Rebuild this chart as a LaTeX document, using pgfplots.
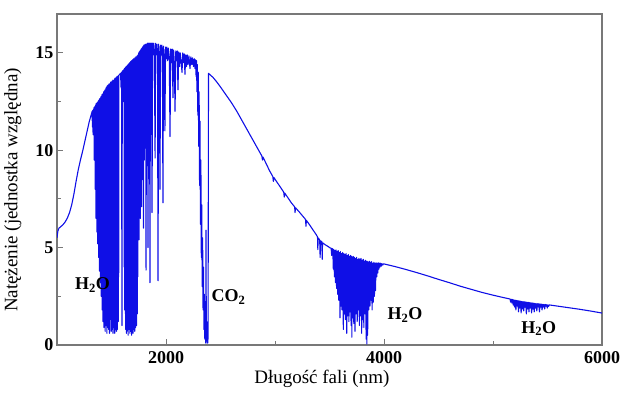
\documentclass[border=0pt]{standalone}
\usepackage{fontspec}
\setmainfont{Liberation Serif}
\usepackage{pgfplots}
\pgfplotsset{compat=1.18}
\definecolor{specblue}{RGB}{15,15,230}
\definecolor{axisgray}{RGB}{120,120,120}
\begin{document}
\begin{tikzpicture}
\useasboundingbox (0pt,0pt) rectangle (626pt,395pt);
\begin{axis}[
  at={(57pt,50pt)}, anchor=south west,
  width=545pt, height=331pt, scale only axis,
  xmin=1000, xmax=6000, ymin=0, ymax=17,
  xtick={2000,4000,6000}, minor xtick={3000,5000},
  ytick={0,5,10,15}, minor ytick={2.5,7.5,12.5},
  xtick pos=bottom, ytick pos=left, tick align=inside,
  major tick length=6pt, minor tick length=4pt,
  axis line style={draw=axisgray, line width=1.3pt},
  every tick/.style={draw=axisgray, line width=1pt},
  scaled x ticks=false,
  /pgf/number format/1000 sep={},
  /pgf/number format/assume math mode=true,
  ticklabel style={font=\fontsize{18}{20}\selectfont\bfseries},
  xticklabel style={yshift=-3pt},
  xlabel={Długość fali (nm)},
  ylabel={Natężenie (jednostka względna)},
  label style={font=\fontsize{19}{22}\selectfont},
  xlabel style={at={(axis description cs:0.486,-0.103)}, anchor=center},
  ylabel style={at={(axis description cs:-0.081,0.468)}, anchor=center},
  clip=true,
]
\addplot[color=specblue, line width=1.1pt, line join=round, mark=none] table {
x y
1000 5.50
1008 5.85
1018 6.00
1035 6.08
1055 6.18
1075 6.32
1095 6.52
1115 6.80
1135 7.20
1155 7.75
1175 8.40
1195 9.00
1215 9.50
1235 9.95
1255 10.45
1275 10.95
1295 11.45
1310 11.75
1320 11.95
1322 12.0
1325 11.2
1328 12.05
1331 10.8
1334 12.1
1337 11.5
1340 12.2
1342 9.5
1344 12.2
1346 10.5
1348 12.25
1350 8.0
1352 12.3
1354 9.2
1356 12.35
1358 6.5
1360 12.4
1362 7.8
1364 12.4
1366 5.8
1368 12.45
1370 7.0
1372 12.3
1374 5.2
1376 12.5
1378 6.0
1380 12.55
1382 4.5
1384 12.4
1386 5.5
1388 12.6
1390 3.8
1392 12.65
1394 4.8
1396 12.5
1398 3.2
1400 12.7
1402 5.0
1404 12.75
1406 2.5
1408 12.6
1410 4.2
1412 12.85
1414 1.8
1416 12.8
1418 3.6
1420 12.9
1422 1.2
1424 12.7
1426 4.5
1428 13.0
1430 0.9
1432 12.9
1434 3.0
1436 13.05
1438 1.4
1440 13.1
1442 0.7
1444 12.8
1446 3.8
1448 13.2
1450 1.0
1452 13.1
1454 2.4
1456 13.25
1458 0.6
1460 13.3
1462 4.2
1464 13.0
1466 0.9
1468 13.35
1470 2.8
1472 13.3
1474 0.8
1476 13.4
1478 3.5
1480 13.4
1482 0.6
1484 13.2
1486 1.3
1488 13.45
1490 4.0
1492 13.5
1494 1.8
1496 13.3
1498 0.7
1500 13.5
1502 3.2
1504 13.55
1506 0.8
1508 13.4
1510 2.6
1512 13.6
1514 0.6
1516 13.55
1518 3.8
1520 13.6
1522 0.9
1524 13.5
1526 2.5
1528 13.65
1530 0.6
1532 13.7
1534 3.3
1536 13.6
1538 0.8
1540 13.7
1542 1.4
1544 13.75
1546 0.7
1548 13.6
1550 4.2
1552 13.8
1554 0.8
1556 13.75
1558 2.8
1560 13.8
1562 1.2
1564 13.85
1566 3.5
1568 13.85
1575 13.9
1583 13.95
1588 13.2
1592 14.0
1596 1.0
1599 14.05
1606 14.1
1611 12.5
1615 14.15
1617 4.0
1619 14.2
1621 1.8
1623 14.1
1625 3.5
1627 14.25
1629 0.8
1631 14.2
1633 2.8
1635 14.3
1637 0.6
1639 14.2
1641 1.2
1643 14.35
1645 3.8
1647 14.3
1649 0.7
1651 14.4
1653 0.5
1655 14.3
1657 2.6
1659 14.45
1661 0.8
1663 14.4
1665 1.4
1667 14.5
1669 0.6
1671 14.4
1673 3.2
1675 14.55
1677 0.7
1679 14.5
1681 1.5
1683 14.6
1685 0.5
1687 14.5
1689 2.9
1691 14.6
1693 1.3
1695 14.65
1697 0.6
1699 14.6
1701 3.6
1703 14.7
1705 0.8
1707 14.6
1709 1.6
1711 14.7
1713 0.7
1715 14.75
1717 4.2
1719 14.7
1721 0.9
1723 14.8
1725 1.8
1727 14.75
1729 1.0
1731 14.8
1733 2.5
1735 14.85
1737 1.6
1739 14.8
1741 3.5
1743 14.9
1746 7.0
1749 15.0
1752 5.4
1755 15.05
1758 9.0
1761 15.1
1764 6.5
1767 15.15
1770 10.0
1773 15.2
1776 7.1
1779 15.25
1782 8.5
1785 15.3
1788 11.0
1791 15.35
1794 6.0
1797 15.4
1800 9.5
1803 15.4
1806 12.0
1809 15.45
1813 14.5
1817 3.85
1821 15.45
1825 14.8
1830 15.5
1835 5.0
1840 15.5
1845 14.9
1849 15.5
1853 3.2
1857 15.5
1862 15.0
1867 15.5
1872 6.8
1877 15.5
1882 14.9
1888 15.5
1893 15.1
1900 9.6
1905 15.5
1911 14.9
1917 15.45
1922 15.0
1927 3.3
1932 15.45
1938 14.8
1945 8.0
1950 15.4
1956 14.9
1962 15.4
1967 14.7
1972 7.3
1977 15.35
1983 14.8
1990 11.0
1996 15.3
2002 14.7
2008 15.3
2015 14.6
2022 15.25
2030 14.8
2037 10.7
2043 15.2
2050 14.5
2057 15.2
2064 12.7
2070 15.15
2077 14.4
2083 12.0
2090 15.1
2097 14.6
2103 15.1
2110 13.1
2117 15.05
2124 14.3
2131 15.0
2138 14.6
2147 14.0
2154 15.0
2160 14.5
2167 14.95
2174 13.9
2181 14.9
2188 14.3
2195 14.9
2202 14.4
2210 14.85
2220 14.2
2228 14.8
2236 14.4
2244 14.75
2252 14.3
2260 14.7
2266 14.2
2272 14.65
2276 13.8
2280 14.6
2284 13.0
2288 14.4
2292 11.8
2296 14.0
2300 10.2
2304 13.0
2308 8.2
2312 11.5
2316 6.2
2320 9.5
2324 4.5
2328 7.2
2332 3.0
2336 5.5
2340 1.8
2344 4.0
2348 0.8
2352 2.6
2356 0.3
2360 1.5
2364 0.1
2367 5.9
2370 0.2
2374 1.2
2377 0.1
2380 0.8
2383 0.1
2386 0.4
2390 13.95
2400 13.9
2430 13.75
2460 13.55
2500 13.25
2550 12.85
2600 12.45
2650 12.0
2700 11.5
2750 11.0
2800 10.5
2850 10.0
2880 9.7
2885 9.5
2890 9.65
2920 9.3
2950 8.95
2980 8.65
2985 8.4
2990 8.6
3020 8.35
3050 8.1
3080 7.85
3085 7.6
3090 7.8
3120 7.55
3150 7.3
3180 7.1
3184 6.8
3188 7.05
3220 6.85
3250 6.65
3280 6.45
3284 6.1
3288 6.4
3320 6.15
3350 5.9
3380 5.65
3390 5.55
3393 4.9
3396 5.5
3410 5.4
3414 4.5
3418 5.35
3430 5.3
3433 4.4
3436 5.25
3460 5.15
3490 5.05
3500 5.0
3515 4.97
3520 4.6
3525 4.95
3530 4.93
3535 3.9
3540 4.9
3545 3.5
3550 4.85
3555 3.2
3560 4.88
3565 2.9
3570 4.8
3575 2.6
3580 4.85
3585 2.3
3590 4.75
3596 1.4
3600 4.8
3605 2.0
3610 4.7
3615 1.8
3620 4.75
3627 0.8
3632 4.7
3637 1.6
3642 4.65
3647 1.3
3652 4.7
3658 0.6
3663 4.6
3668 1.5
3673 4.65
3678 1.2
3683 4.55
3688 1.7
3693 4.6
3698 1.0
3703 4.55
3705 0.4
3708 4.5
3713 1.4
3718 4.55
3723 1.1
3728 4.5
3734 0.7
3739 4.45
3744 1.6
3749 4.5
3754 1.2
3759 4.4
3764 1.8
3769 4.45
3774 1.0
3779 4.4
3784 1.5
3789 4.45
3795 0.6
3800 4.35
3805 1.3
3810 4.4
3815 0.9
3820 4.3
3825 1.6
3830 4.35
3836 0.3
3841 4.3
3843 0.05
3846 4.3
3850 0.5
3855 4.25
3860 1.8
3865 4.3
3871 2.0
3876 4.25
3881 2.3
3886 4.28
3891 1.8
3896 4.2
3902 2.2
3907 4.25
3912 2.5
3917 4.2
3922 2.8
3927 4.22
3933 3.5
3938 4.2
3943 3.7
3948 4.22
3953 3.9
3958 4.2
3963 4.0
3968 4.2
3975 4.05
3980 4.18
3988 4.1
3995 4.17
4100 4.03
4200 3.88
4300 3.72
4400 3.55
4500 3.37
4600 3.2
4700 3.02
4800 2.86
4900 2.7
5000 2.56
5100 2.43
5150 2.37
5156 2.36
5162 2.2
5168 2.35
5174 2.15
5180 2.34
5186 2.05
5192 2.32
5198 1.95
5204 2.3
5210 1.8
5216 2.29
5222 2.0
5228 2.28
5234 1.7
5240 2.27
5246 1.9
5252 2.25
5258 1.65
5264 2.24
5270 1.85
5276 2.23
5282 1.75
5288 2.22
5294 1.95
5300 2.21
5306 1.6
5312 2.2
5318 1.85
5324 2.19
5330 1.7
5336 2.18
5342 1.9
5348 2.17
5354 1.65
5360 2.16
5366 1.85
5372 2.15
5378 1.7
5384 2.14
5390 1.9
5396 2.13
5402 1.75
5408 2.12
5414 1.95
5420 2.12
5426 1.7
5432 2.11
5438 1.95
5444 2.1
5450 1.8
5456 2.09
5462 1.95
5468 2.08
5474 1.85
5480 2.08
5486 2.0
5492 2.07
5498 1.9
5504 2.06
5510 1.98
5516 2.06
5525 2.05
5600 1.99
5700 1.91
5800 1.83
5900 1.74
6000 1.64
};
\node[font=\fontsize{18}{20}\selectfont\bfseries, anchor=center] at (axis cs:1326,3.08) {H\textsubscript{2}O};
\node[font=\fontsize{18}{20}\selectfont\bfseries, anchor=center] at (axis cs:2573,2.46) {CO\textsubscript{2}};
\node[font=\fontsize{18}{20}\selectfont\bfseries, anchor=center] at (axis cs:4193,1.54) {H\textsubscript{2}O};
\node[font=\fontsize{18}{20}\selectfont\bfseries, anchor=center] at (axis cs:5420,0.84) {H\textsubscript{2}O};
\end{axis}
\end{tikzpicture}
\end{document}
